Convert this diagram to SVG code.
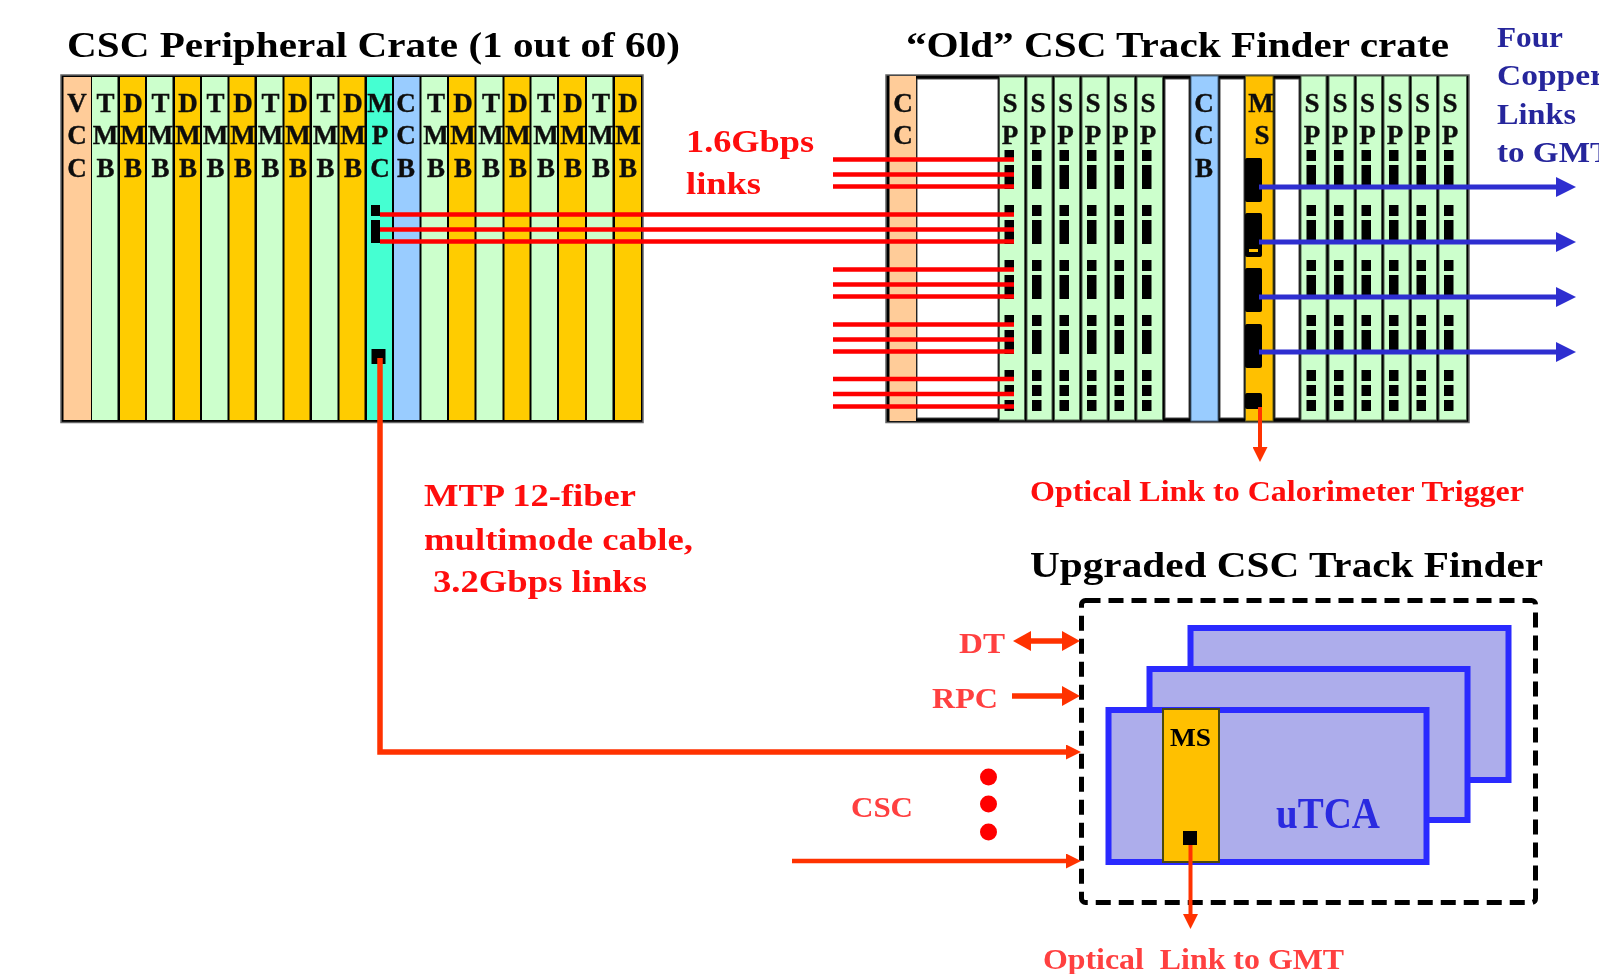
<svg xmlns="http://www.w3.org/2000/svg" xmlns:xlink="http://www.w3.org/1999/xlink" width="1599" height="974" viewBox="0 0 1599 974">
<style>
text{font-family:"Liberation Serif","Times New Roman",serif}
.t{font-weight:bold;font-size:36px;fill:#000}
.r{font-weight:bold;font-size:32px;fill:#ff1010}
.p{font-weight:bold;font-size:30px;fill:#ff4040}
.b{font-weight:bold;font-size:29px;fill:#28289c}
.s{font-size:27px;fill:#111;stroke:#111;stroke-width:.4;text-anchor:middle;font-weight:bold}
.g{fill:#ccffcc}
.o{fill:#ffcc00}
#old-crate .g{stroke:#4c5e4c;stroke-width:1}
.c{fill:#ffcc99}
.l{fill:#99ccff;stroke:#4a6a8a;stroke-width:1}
.w{fill:#fff;stroke:#444;stroke-width:1}
.k{fill:#000}
.f{fill:#adadeb;stroke:#2a2aff;stroke-width:6}
.red{stroke:#ff0000;stroke-width:4.500;fill:none}
.org{stroke:#ff3300;stroke-width:5.500;fill:none}
.blu{stroke:#2f2fd0;stroke-width:5;fill:none;marker-end:url(#hb)}
</style>
<defs>
<filter id="soft" x="0" y="0" width="1599" height="974" filterUnits="userSpaceOnUse"><feGaussianBlur stdDeviation="0.7"/></filter>
<marker id="hb" markerUnits="userSpaceOnUse" markerWidth="20" markerHeight="20" refX="0" refY="10" orient="auto"><path d="M0 0L20 10L0 20z" fill="#2f2fd0"/></marker>
<marker id="hr" markerUnits="userSpaceOnUse" markerWidth="18" markerHeight="20" refX="1" refY="10" orient="auto-start-reverse"><path d="M0 0L18 10L0 20z" fill="#ff3300"/></marker>
<marker id="hs" markerUnits="userSpaceOnUse" markerWidth="15" markerHeight="15" refX="1" refY="7.500" orient="auto"><path d="M0 0L15 7.500L0 15z" fill="#ff3300"/></marker>
<g id="blocks">
<rect class="k" x="0" y="150" width="9.500" height="11"/><rect class="k" x="0" y="165" width="9.500" height="24"/>
<rect class="k" x="0" y="205" width="9.500" height="11"/><rect class="k" x="0" y="220" width="9.500" height="24"/>
<rect class="k" x="0" y="260" width="9.500" height="11"/><rect class="k" x="0" y="275" width="9.500" height="24"/>
<rect class="k" x="0" y="315" width="9.500" height="11"/><rect class="k" x="0" y="330" width="9.500" height="24"/>
<rect class="k" x="0" y="370" width="9.500" height="11"/><rect class="k" x="0" y="385" width="9.500" height="11"/><rect class="k" x="0" y="400" width="9.500" height="11"/>
</g>
</defs>
<rect width="1599" height="974" fill="#fff"/>
<g filter="url(#soft)">
<g id="titles">
<text class="t" x="67" y="57" textLength="613" lengthAdjust="spacingAndGlyphs">CSC Peripheral Crate (1 out of 60)</text>
<text class="t" x="906" y="57" textLength="543" lengthAdjust="spacingAndGlyphs">“Old” CSC Track Finder crate</text>
<text class="t" x="1030" y="577" textLength="513" lengthAdjust="spacingAndGlyphs">Upgraded CSC Track Finder</text>
</g>
<g id="peripheral-crate">
<rect x="61" y="75" width="582" height="347.500" fill="#000" stroke="#666" stroke-width="1.500"/>
<g id="vcc"><rect class="c" x="63.500" y="77" width="27.500" height="343"/><text class="s" x="77"><tspan x="77" y="112">V</tspan><tspan x="77" y="144">C</tspan><tspan x="77" y="177">C</tspan></text></g>
<g id="p-tmb1"><rect class="g" x="92" y="77" width="25.500" height="343"/><text class="s"><tspan x="105.500" y="112">T</tspan><tspan x="105.500" y="144">M</tspan><tspan x="105.500" y="177">B</tspan></text></g>
<g id="p-dmb1"><rect class="o" x="120" y="77" width="25" height="343"/><text class="s"><tspan x="133" y="112">D</tspan><tspan x="133" y="144">M</tspan><tspan x="133" y="177">B</tspan></text></g>
<g id="p-tmb2"><rect class="g" x="147" y="77" width="25.500" height="343"/><text class="s"><tspan x="160.500" y="112">T</tspan><tspan x="160.500" y="144">M</tspan><tspan x="160.500" y="177">B</tspan></text></g>
<g id="p-dmb2"><rect class="o" x="175" y="77" width="25" height="343"/><text class="s"><tspan x="188" y="112">D</tspan><tspan x="188" y="144">M</tspan><tspan x="188" y="177">B</tspan></text></g>
<g id="p-tmb3"><rect class="g" x="202" y="77" width="25.500" height="343"/><text class="s"><tspan x="215.500" y="112">T</tspan><tspan x="215.500" y="144">M</tspan><tspan x="215.500" y="177">B</tspan></text></g>
<g id="p-dmb3"><rect class="o" x="229.500" y="77" width="25" height="343"/><text class="s"><tspan x="243" y="112">D</tspan><tspan x="243" y="144">M</tspan><tspan x="243" y="177">B</tspan></text></g>
<g id="p-tmb4"><rect class="g" x="257" y="77" width="25.500" height="343"/><text class="s"><tspan x="270.500" y="112">T</tspan><tspan x="270.500" y="144">M</tspan><tspan x="270.500" y="177">B</tspan></text></g>
<g id="p-dmb4"><rect class="o" x="284.500" y="77" width="25" height="343"/><text class="s"><tspan x="298" y="112">D</tspan><tspan x="298" y="144">M</tspan><tspan x="298" y="177">B</tspan></text></g>
<g id="p-tmb5"><rect class="g" x="312" y="77" width="25.500" height="343"/><text class="s"><tspan x="325.500" y="112">T</tspan><tspan x="325.500" y="144">M</tspan><tspan x="325.500" y="177">B</tspan></text></g>
<g id="p-dmb5"><rect class="o" x="339.500" y="77" width="25" height="343"/><text class="s"><tspan x="353" y="112">D</tspan><tspan x="353" y="144">M</tspan><tspan x="353" y="177">B</tspan></text></g>
<g id="mpc"><rect x="367" y="77" width="25" height="343" fill="#44ffd2"/><text class="s"><tspan x="380" y="112">M</tspan><tspan x="380" y="144">P</tspan><tspan x="380" y="177">C</tspan></text>
<rect class="k" x="371" y="205" width="9" height="11"/><rect class="k" x="371" y="220" width="9" height="23"/><rect class="k" x="371.500" y="349" width="14" height="15"/></g>
<g id="p-ccb"><rect x="394" y="77" width="25.500" height="343" fill="#99ccff"/><text class="s"><tspan x="406" y="112">C</tspan><tspan x="406" y="144">C</tspan><tspan x="406" y="177">B</tspan></text></g>
<g id="p-tmb6"><rect class="g" x="421.500" y="77" width="25.500" height="343"/><text class="s"><tspan x="436" y="112">T</tspan><tspan x="436" y="144">M</tspan><tspan x="436" y="177">B</tspan></text></g>
<g id="p-dmb6"><rect class="o" x="449" y="77" width="25.500" height="343"/><text class="s"><tspan x="463" y="112">D</tspan><tspan x="463" y="144">M</tspan><tspan x="463" y="177">B</tspan></text></g>
<g id="p-tmb7"><rect class="g" x="476.500" y="77" width="26" height="343"/><text class="s"><tspan x="491" y="112">T</tspan><tspan x="491" y="144">M</tspan><tspan x="491" y="177">B</tspan></text></g>
<g id="p-dmb7"><rect class="o" x="504.500" y="77" width="25" height="343"/><text class="s"><tspan x="518" y="112">D</tspan><tspan x="518" y="144">M</tspan><tspan x="518" y="177">B</tspan></text></g>
<g id="p-tmb8"><rect class="g" x="531.500" y="77" width="25.500" height="343"/><text class="s"><tspan x="546" y="112">T</tspan><tspan x="546" y="144">M</tspan><tspan x="546" y="177">B</tspan></text></g>
<g id="p-dmb8"><rect class="o" x="559" y="77" width="26" height="343"/><text class="s"><tspan x="573" y="112">D</tspan><tspan x="573" y="144">M</tspan><tspan x="573" y="177">B</tspan></text></g>
<g id="p-tmb9"><rect class="g" x="587" y="77" width="25.500" height="343"/><text class="s"><tspan x="601" y="112">T</tspan><tspan x="601" y="144">M</tspan><tspan x="601" y="177">B</tspan></text></g>
<g id="p-dmb9"><rect class="o" x="615" y="77" width="26" height="343"/><text class="s"><tspan x="628" y="112">D</tspan><tspan x="628" y="144">M</tspan><tspan x="628" y="177">B</tspan></text></g>
</g>
<g id="old-crate">
<rect x="886" y="75" width="583" height="347.500" fill="#000" stroke="#666" stroke-width="1.500"/>
<g id="cc"><rect class="c" x="889.500" y="76" width="26.500" height="345"/><text class="s"><tspan x="903" y="112">C</tspan><tspan x="903" y="144">C</tspan></text></g>
<rect class="w" x="917" y="79" width="81" height="339"/>
<g id="sp1"><rect class="g" x="999.500" y="77" width="25" height="343"/><text class="s"><tspan x="1010" y="112">S</tspan><tspan x="1010" y="144">P</tspan></text><use href="#blocks" x="1004.500"/></g>
<g id="sp2"><rect class="g" x="1027" y="77" width="25" height="343"/><text class="s"><tspan x="1038" y="112">S</tspan><tspan x="1038" y="144">P</tspan></text><use href="#blocks" x="1032"/></g>
<g id="sp3"><rect class="g" x="1054.500" y="77" width="25" height="343"/><text class="s"><tspan x="1065.500" y="112">S</tspan><tspan x="1065.500" y="144">P</tspan></text><use href="#blocks" x="1059.500"/></g>
<g id="sp4"><rect class="g" x="1082" y="77" width="25" height="343"/><text class="s"><tspan x="1093" y="112">S</tspan><tspan x="1093" y="144">P</tspan></text><use href="#blocks" x="1087"/></g>
<g id="sp5"><rect class="g" x="1109.500" y="77" width="25" height="343"/><text class="s"><tspan x="1120.500" y="112">S</tspan><tspan x="1120.500" y="144">P</tspan></text><use href="#blocks" x="1114.500"/></g>
<g id="sp6"><rect class="g" x="1137" y="77" width="25.500" height="343"/><text class="s"><tspan x="1148" y="112">S</tspan><tspan x="1148" y="144">P</tspan></text><use href="#blocks" x="1142"/></g>
<rect class="w" x="1165" y="79" width="24" height="339"/>
<g id="ccb"><rect class="l" x="1191" y="76" width="27" height="345"/><text class="s"><tspan x="1204" y="112">C</tspan><tspan x="1204" y="144">C</tspan><tspan x="1204" y="177">B</tspan></text></g>
<rect class="w" x="1220" y="79" width="24" height="339"/>
<g id="ms"><rect x="1245.500" y="76" width="27.500" height="345" fill="#ffc000" stroke="#5c5a20"/><text class="s"><tspan x="1261" y="112">M</tspan><tspan x="1262" y="144">S</tspan></text>
<rect class="k" x="1245" y="158" width="17" height="44" rx="2"/><rect class="k" x="1245" y="213" width="17" height="44" rx="2"/><rect x="1249" y="249" width="9" height="3" fill="#ffc000"/><rect class="k" x="1245" y="268" width="17" height="44" rx="2"/><rect class="k" x="1245" y="324" width="17" height="44" rx="2"/><rect class="k" x="1245" y="393" width="17" height="16" rx="2"/></g>
<rect class="w" x="1275" y="79" width="24" height="339"/>
<g id="sp7"><rect class="g" x="1301" y="76" width="25" height="344"/><text class="s"><tspan x="1312" y="112">S</tspan><tspan x="1312" y="144">P</tspan></text><use href="#blocks" x="1306.500"/></g>
<g id="sp8"><rect class="g" x="1329" y="76" width="25" height="344"/><text class="s"><tspan x="1340" y="112">S</tspan><tspan x="1340" y="144">P</tspan></text><use href="#blocks" x="1334"/></g>
<g id="sp9"><rect class="g" x="1356.500" y="76" width="25" height="344"/><text class="s"><tspan x="1367.500" y="112">S</tspan><tspan x="1367.500" y="144">P</tspan></text><use href="#blocks" x="1361.500"/></g>
<g id="sp10"><rect class="g" x="1384" y="76" width="25" height="344"/><text class="s"><tspan x="1395" y="112">S</tspan><tspan x="1395" y="144">P</tspan></text><use href="#blocks" x="1389"/></g>
<g id="sp11"><rect class="g" x="1411.500" y="76" width="25" height="344"/><text class="s"><tspan x="1422.500" y="112">S</tspan><tspan x="1422.500" y="144">P</tspan></text><use href="#blocks" x="1416.500"/></g>
<g id="sp12"><rect class="g" x="1439" y="76" width="27.500" height="344"/><text class="s"><tspan x="1450" y="112">S</tspan><tspan x="1450" y="144">P</tspan></text><use href="#blocks" x="1444"/></g>
</g>
<g id="upgraded">
<rect x="1081.500" y="600.500" width="454" height="302" rx="4" fill="#fff" stroke="#000" stroke-width="5" stroke-dasharray="15 8"/>
<rect class="f" x="1190.500" y="628" width="318" height="152"/>
<rect class="f" x="1149.500" y="669" width="318" height="151"/>
<rect class="f" x="1108.500" y="710" width="318" height="152"/>
<g id="upgraded-ms"><rect x="1163" y="709" width="56" height="153" fill="#ffc000" stroke="#4c4a10" stroke-width="2"/><text x="1170" y="746" font-size="25" font-weight="bold" fill="#000" textLength="41" lengthAdjust="spacingAndGlyphs">MS</text><rect class="k" x="1183" y="831" width="14" height="14"/></g>
<text id="utca" x="1276" y="828" font-size="44" font-weight="bold" fill="#2a2ae0" textLength="104" lengthAdjust="spacingAndGlyphs">uTCA</text>
</g>
<g id="connectors">
<path class="red" d="M833 159.500H1014M833 174.500H1014M833 186.500H1014M380 214.500H1014M380 229.500H1014M380 241.500H1014M833 269.500H1014M833 284.500H1014M833 296.500H1014M833 324.500H1014M833 339.500H1014M833 351.500H1014M833 379H1014M833 394H1014M833 406.500H1014"/>
<path class="blu" d="M1259 187H1556"/><path class="blu" d="M1259 242H1556"/><path class="blu" d="M1259 297H1556"/><path class="blu" d="M1259 352H1556"/>
<path d="M1260 407V448" stroke="#ff3300" stroke-width="4" fill="none" marker-end="url(#hs)"/>
<path class="org" d="M380 358V752H1067" marker-end="url(#hs)"/>
<path d="M1030 641H1063" stroke="#ff3300" stroke-width="5.500" fill="none" marker-start="url(#hr)" marker-end="url(#hr)"/>
<path d="M1012 696H1063" stroke="#ff3300" stroke-width="5.500" fill="none" marker-end="url(#hr)"/>
<path class="org" d="M792 861H1067" style="stroke-width:4.500" marker-end="url(#hs)"/>
<path d="M1190.500 845V915" stroke="#ff3300" stroke-width="4" fill="none" marker-end="url(#hs)"/>
</g>
<g id="labels">
<text class="r" x="686" y="152" textLength="128" lengthAdjust="spacingAndGlyphs">1.6Gbps</text>
<text class="r" x="686" y="194" textLength="75" lengthAdjust="spacingAndGlyphs">links</text>
<text class="r" x="424" y="506" textLength="212" lengthAdjust="spacingAndGlyphs">MTP 12-fiber</text>
<text class="r" x="424" y="550" textLength="269" lengthAdjust="spacingAndGlyphs">multimode cable,</text>
<text class="r" x="433" y="592" textLength="214" lengthAdjust="spacingAndGlyphs">3.2Gbps links</text>
<text class="r" x="1030" y="501" style="font-size:29.500px" textLength="494" lengthAdjust="spacingAndGlyphs">Optical Link to Calorimeter Trigger</text>
<text class="p" x="1043" y="969" xml:space="preserve" textLength="301" lengthAdjust="spacingAndGlyphs">Optical  Link to GMT</text>
<text class="p" x="959" y="653" textLength="46" lengthAdjust="spacingAndGlyphs">DT</text>
<text class="p" x="932" y="708" textLength="66" lengthAdjust="spacingAndGlyphs">RPC</text>
<text class="p" x="851" y="817" textLength="62" lengthAdjust="spacingAndGlyphs">CSC</text>
<circle cx="988.500" cy="777" r="8.500" fill="#ff0000"/><circle cx="988.500" cy="804" r="8.500" fill="#ff0000"/><circle cx="988.500" cy="832" r="8.500" fill="#ff0000"/>
<text class="b" x="1497" y="47" textLength="66" lengthAdjust="spacingAndGlyphs">Four</text>
<text class="b" x="1497" y="85" textLength="108" lengthAdjust="spacingAndGlyphs">Copper</text>
<text class="b" x="1497" y="124" textLength="79" lengthAdjust="spacingAndGlyphs">Links</text>
<text class="b" x="1497" y="162" textLength="115" lengthAdjust="spacingAndGlyphs">to GMT</text>
</g>
</g>
</svg>
